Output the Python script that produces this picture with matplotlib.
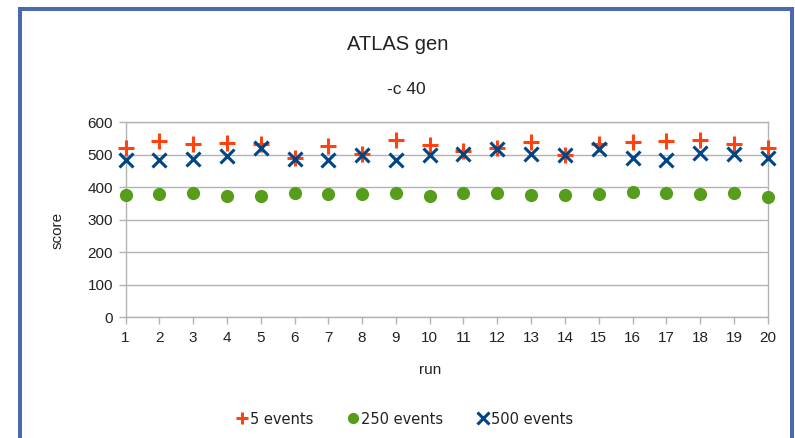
import matplotlib
matplotlib.use("Agg")
import matplotlib.pyplot as plt
from matplotlib.patches import Rectangle

plt.rcParams['font.family'] = ['Liberation Sans', 'DejaVu Sans']

runs = list(range(1, 21))
events_5 = [520, 542, 532, 537, 534, 491, 526, 503, 546, 531,
            511, 520, 539, 498, 532, 539, 544, 546, 534, 520]
events_250 = [376, 378, 383, 373, 372, 382, 379, 379, 383, 374,
              382, 384, 377, 377, 378, 385, 382, 378, 382, 370]
events_500 = [483, 483, 487, 497, 522, 488, 483, 498, 485, 500,
              501, 518, 503, 500, 518, 491, 485, 505, 501, 491]
labels = ['5 events', '250 events', '500 events']
yticks = [0, 100, 200, 300, 400, 500, 600]

W, H = 795, 438
fig = plt.figure(figsize=(W / 100, H / 100), dpi=100)
ax = fig.add_axes([125.5 / W, 1 - 317.3 / H, (767.7 - 125.5) / W, (317.3 - 122.3) / H])

c_orange = '#ff420e'
c_green = '#579d1c'
c_blue = '#004586'
grey = '#b3b3b3'

h1, = ax.plot(runs, events_5, linestyle='none', marker='+', markersize=11,
              markeredgewidth=2.2, color=c_orange, clip_on=False, zorder=3)
h2, = ax.plot(runs, events_250, linestyle='none', marker='o', markersize=9.5,
              color=c_green, markeredgewidth=0, clip_on=False, zorder=3)
h3, = ax.plot(runs, events_500, linestyle='none', marker='x', markersize=9.5,
              markeredgewidth=2.2, color=c_blue, clip_on=False, zorder=4)

ax.set_xlim(1, 20)
ax.set_ylim(0, 600)
ax.set_xticks(runs)
ax.set_xticklabels([str(r) for r in runs])
ax.set_yticks(yticks)
ax.set_yticklabels([str(v) for v in yticks])
ax.yaxis.grid(True, color=grey, linewidth=1.0)
ax.set_axisbelow(True)
for s in ax.spines.values():
    s.set_color(grey)
    s.set_linewidth(1.0)
ax.tick_params(axis='both', colors=grey, labelcolor='#222222', labelsize=11,
               length=5, width=1.0, direction='out')
ax.tick_params(axis='x', pad=5)
ax.tick_params(axis='y', pad=4)

fig.text(397.5 / W, 1 - 45 / H, 'ATLAS gen', ha='center', va='center',
         fontsize=14.5, color='#222222')
fig.text(406 / W, 1 - 89.5 / H, '-c 40', ha='center', va='center',
         fontsize=12.5, color='#222222')
fig.text(58 / W, 1 - 230 / H, 'score', ha='center', va='center',
         rotation=90, fontsize=11, color='#222222')
fig.text(430 / W, 1 - 370 / H, 'run', ha='center', va='center',
         fontsize=11, color='#222222')

leg = fig.legend([h1, h2, h3], labels, loc='center', ncol=3,
                 bbox_to_anchor=(405 / W, 1 - 419 / H), frameon=False,
                 prop={'family': 'DejaVu Sans', 'size': 10.5},
                 handlelength=0.7, handletextpad=0.2,
                 columnspacing=2.4, markerscale=0.85)
for t in leg.get_texts():
    t.set_color('#222222')

border = Rectangle((20 / W, -0.05), (792 - 20) / W, 1.05 - 8.5 / H,
                   transform=fig.transFigure, fill=False,
                   edgecolor='#4a69b0', linewidth=2.9, zorder=10)
fig.patches.append(border)

fig.savefig('out.png', dpi=100)
